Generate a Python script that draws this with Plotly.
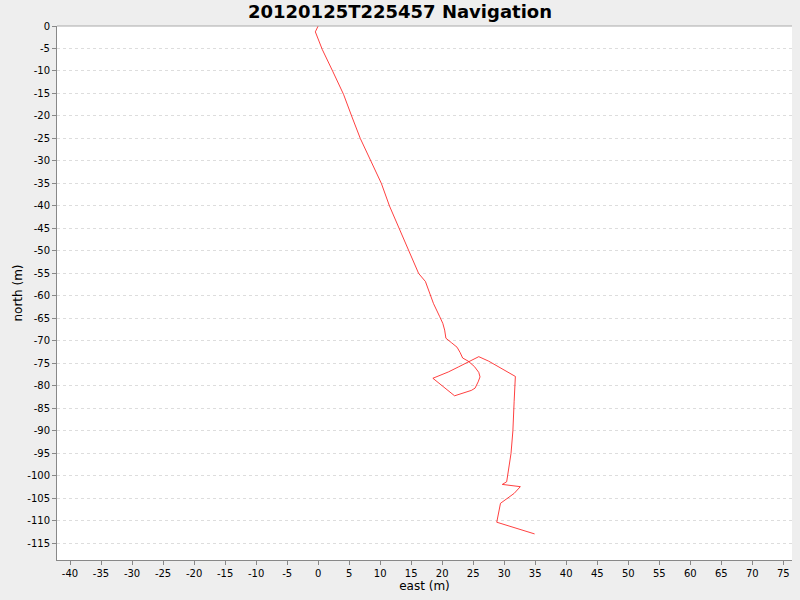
import plotly.graph_objects as go

east = [0.0, -0.45, -0.25, 0.66, 2.4, 4.1, 5.4, 6.8, 8.5, 10.2, 11.5, 13.1, 14.7, 16.2,
        17.3, 18.6, 19.6, 20.1, 20.4, 20.6, 21.5, 22.4, 22.9, 23.3, 24.2, 25.2, 25.9,
        26.1, 25.8, 25.3, 24.7, 22.0, 18.5, 19.9, 21.0, 22.6, 24.2, 25.9, 27.5, 29.3,
        31.8, 31.6, 31.4, 31.1, 30.7, 30.4, 29.7, 32.6, 31.6, 30.4, 29.4, 28.8, 34.9]
north = [0.0, -1.3, -2.0, -5.2, -10.2, -15.2, -20.0, -25.0, -30.0, -35.0, -40.0, -45.2,
         -50.0, -55.0, -56.8, -61.7, -64.6, -66.1, -67.6, -69.4, -70.4, -71.4, -72.6,
         -73.8, -74.5, -75.7, -77.0, -78.0, -79.1, -80.5, -81.0, -82.2, -78.3, -77.5,
         -76.9, -75.8, -74.6, -73.5, -74.5, -75.9, -77.9, -83.5, -90.0, -95.0, -98.5,
         -101.3, -101.9, -102.4, -103.9, -105.2, -106.1, -110.3, -112.9]

x_tick_vals = [-40, -35, -30, -25, -20, -15, -10, -5, 0, 5, 10, 15, 20, 25, 30, 35,
               40, 45, 50, 55, 60, 65, 70, 75]
x_tick_text = ["-40", "-35", "-30", "-25", "-20", "-15", "-10", "-5", "0", "5", "10",
               "15", "20", "25", "30", "35", "40", "45", "50", "55", "60", "65", "70", "75"]
y_tick_vals = [0, -5, -10, -15, -20, -25, -30, -35, -40, -45, -50, -55, -60, -65, -70,
               -75, -80, -85, -90, -95, -100, -105, -110, -115]
y_tick_text = ["0", "-5", "-10", "-15", "-20", "-25", "-30", "-35", "-40", "-45", "-50",
               "-55", "-60", "-65", "-70", "-75", "-80", "-85", "-90", "-95", "-100",
               "-105", "-110", "-115"]

fig = go.Figure()
fig.add_trace(go.Scatter(x=east, y=north, mode="lines",
                         line=dict(color="rgba(255,0,0,0.75)", width=1),
                         showlegend=False, hoverinfo="skip"))

fig.update_layout(
    width=800, height=600,
    paper_bgcolor="#EEEEEE", plot_bgcolor="#FFFFFF",
    margin=dict(l=57, r=8, t=26, b=40),
    font=dict(family="DejaVu Sans", size=10, color="#000000"),
    title=dict(text="<b>20120125T225457 Navigation</b>", x=0.5, xanchor="center",
               y=1 - 12 / 600, yanchor="middle", automargin=False,
               font=dict(family="DejaVu Sans", size=18, color="#000000")),
)
fig.update_xaxes(
    range=[-42.1, 76.4], tickmode="array", tickvals=x_tick_vals, ticktext=x_tick_text,
    showgrid=False, zeroline=False, showline=True, linecolor="#888888", linewidth=1,
    mirror=False, ticks="outside", ticklen=4, tickcolor="#888888", automargin=False,
    tickfont=dict(size=10, color="#000000"),
    title=dict(text="east (m)", font=dict(size=12), standoff=3),
)
fig.update_yaxes(
    range=[-118.7, 0.0], tickmode="array", tickvals=y_tick_vals, ticktext=y_tick_text,
    showgrid=True, gridcolor="#DDDDDD", griddash="3px,3px", gridwidth=1,
    zeroline=False, showline=True, linecolor="#888888", linewidth=1, automargin=False,
    ticks="outside", ticklen=4, tickcolor="#888888",
    tickfont=dict(size=10, color="#000000"),
    title=dict(text="north (m)", font=dict(size=12), standoff=2),
)
fig.add_shape(type="line", xref="paper", yref="paper", x0=0, x1=1, y0=1, y1=1,
              line=dict(color="#AAAAAA", width=1))

fig.write_html("out.html", config={"displayModeBar": False},
               post_script="document.body.style.margin='0';document.body.style.overflow='hidden';")
